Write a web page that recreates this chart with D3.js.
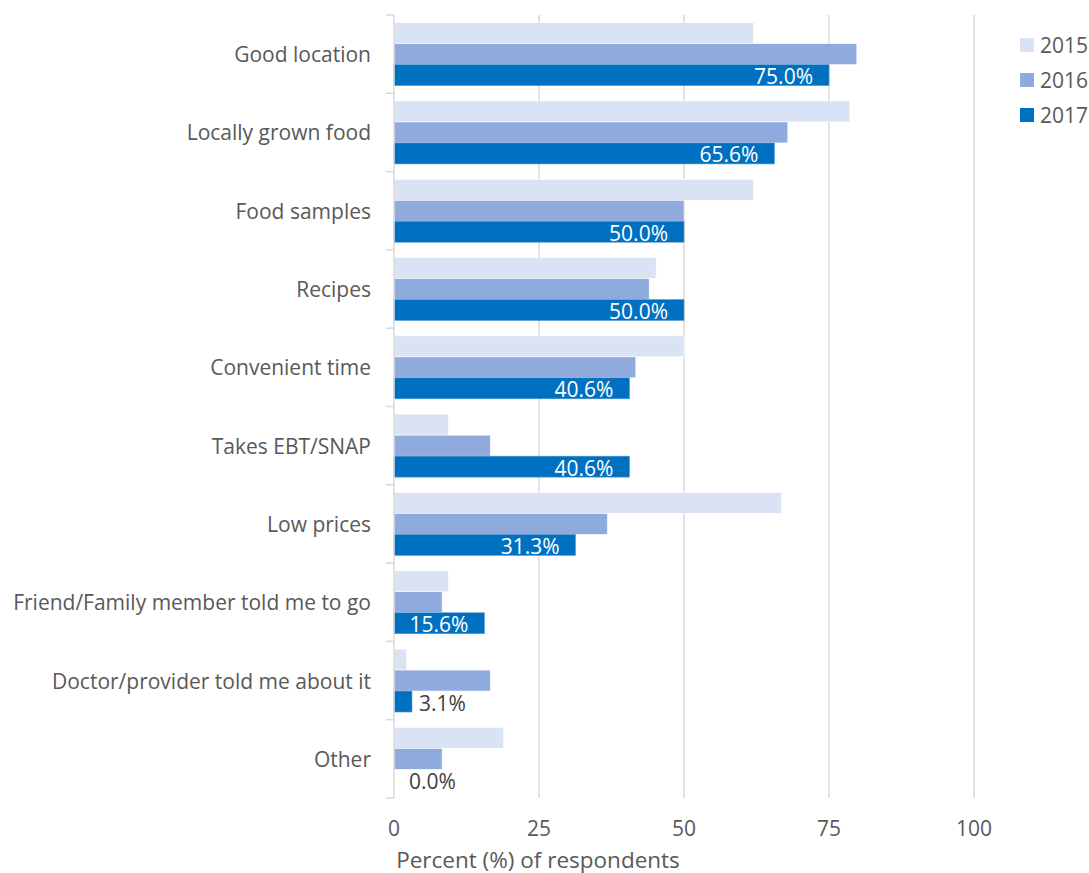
<!DOCTYPE html>
<html>
<head>
<meta charset="utf-8">
<script src="https://cdn.jsdelivr.net/npm/d3@7"></script>
<style>
  body { margin: 0; background: #fff; }
  text { font-family: "Open Sans", sans-serif; }
</style>
</head>
<body>
<div id="chart"></div>
<script>
const categories = ['Good location', 'Locally grown food', 'Food samples', 'Recipes', 'Convenient time',
  'Takes EBT/SNAP', 'Low prices', 'Friend/Family member told me to go', 'Doctor/provider told me about it', 'Other'];
const years = ['2015', '2016', '2017'];
const values2015 = [62.0, 78.6, 62.0, 45.2, 50.0, 9.4, 66.8, 9.4, 2.2, 18.9];
const values2016 = [79.8, 67.9, 50.0, 44.0, 41.7, 16.6, 36.8, 8.3, 16.6, 8.3];
const values2017 = [75.0, 65.6, 50.0, 50.0, 40.6, 40.6, 31.3, 15.6, 3.1, 0.0];
const xTicks = [0, 25, 50, 75, 100];
const colors = ['#dae3f3', '#8faadc', '#0070c0'];

const width = 1089, height = 873;
const margin = { top: 15, bottom: 75, left: 394, right: 115 };
const fs = '21px';

const svg = d3.select('#chart').append('svg')
  .attr('width', width).attr('height', height);

const x = d3.scaleLinear().domain([0, 100]).range([margin.left, width - margin.right]);
const y = d3.scaleBand().domain(categories).range([margin.top, height - margin.bottom]);
const yy = d3.scaleBand().domain(years).range([y.bandwidth() * 0.098, y.bandwidth() * 0.902]);

const series = [values2015, values2016, values2017];
const rows = [];
series.forEach((vals, si) => vals.forEach((v, i) => rows.push({ cat: categories[i], year: years[si], si, v })));

// gridlines
svg.append('g').selectAll('line').data(xTicks.slice(1)).join('line')
  .attr('x1', d => x(d)).attr('x2', d => x(d))
  .attr('y1', margin.top).attr('y2', height - margin.bottom)
  .attr('stroke', '#d9d9d9').attr('stroke-width', 1.5);

// bars
svg.append('g').selectAll('rect').data(rows).join('rect')
  .attr('x', x(0))
  .attr('y', d => y(d.cat) + yy(d.year))
  .attr('width', d => x(d.v) - x(0))
  .attr('height', yy.bandwidth())
  .attr('fill', d => colors[d.si])
  .attr('stroke', d => d.si === 2 ? '#5b9bd5' : '#ffffff')
  .attr('stroke-width', d => d.v > 0 ? 0.6 : 0);

// y axis
const yAxis = svg.append('g').attr('transform', `translate(${x(0)},0)`);
yAxis.append('line').attr('x1', 0).attr('x2', 0)
  .attr('y1', margin.top).attr('y2', height - margin.bottom)
  .attr('stroke', '#d9d9d9').attr('stroke-width', 1.5);
const bounds = categories.map(c => y(c)).concat([height - margin.bottom]);
yAxis.selectAll('.tk').data(bounds).join('line')
  .attr('x1', -8).attr('x2', 0).attr('y1', d => d).attr('y2', d => d)
  .attr('stroke', '#d9d9d9').attr('stroke-width', 1.5);
yAxis.selectAll('.lbl').data(categories).join('text')
  .attr('x', -23).attr('y', d => y(d) + y.bandwidth() / 2)
  .attr('text-anchor', 'end').attr('dominant-baseline', 'central')
  .attr('fill', '#595959').attr('font-size', fs)
  .text(d => d);

// x tick labels
svg.append('g').selectAll('text').data(xTicks).join('text')
  .attr('x', d => x(d)).attr('y', 828)
  .attr('text-anchor', 'middle').attr('dominant-baseline', 'central')
  .attr('fill', '#595959').attr('font-size', fs)
  .text(d => d);

svg.append('text')
  .attr('x', 538).attr('y', 859)
  .attr('text-anchor', 'middle').attr('dominant-baseline', 'central')
  .attr('fill', '#595959').attr('font-size', '22.5px')
  .text('Percent (%) of respondents');

// data labels for 2017
const lab = rows.filter(d => d.si === 2);
svg.append('g').selectAll('text').data(lab).join('text')
  .attr('x', d => d.v > 10 ? x(d.v) - 16 : x(d.v) + 7 + (d.v === 0 ? 8 : 0))
  .attr('y', d => y(d.cat) + yy(d.year) + yy.bandwidth() / 2 + 1)
  .attr('text-anchor', d => d.v > 10 ? 'end' : 'start')
  .attr('dominant-baseline', 'central')
  .attr('fill', d => d.v > 10 ? '#ffffff' : '#404040')
  .attr('font-size', fs)
  .text(d => d.v.toFixed(1) + '%');

// legend
const legend = svg.append('g').selectAll('g').data(years).join('g')
  .attr('transform', (d, i) => `translate(1020,${45 + i * 35})`);
legend.append('rect').attr('x', 0).attr('y', -7).attr('width', 14).attr('height', 14)
  .attr('fill', (d, i) => colors[i]);
legend.append('text').attr('x', 20).attr('y', 0)
  .attr('dominant-baseline', 'central')
  .attr('fill', '#595959').attr('font-size', fs)
  .text(d => d);
</script>
</body>
</html>
